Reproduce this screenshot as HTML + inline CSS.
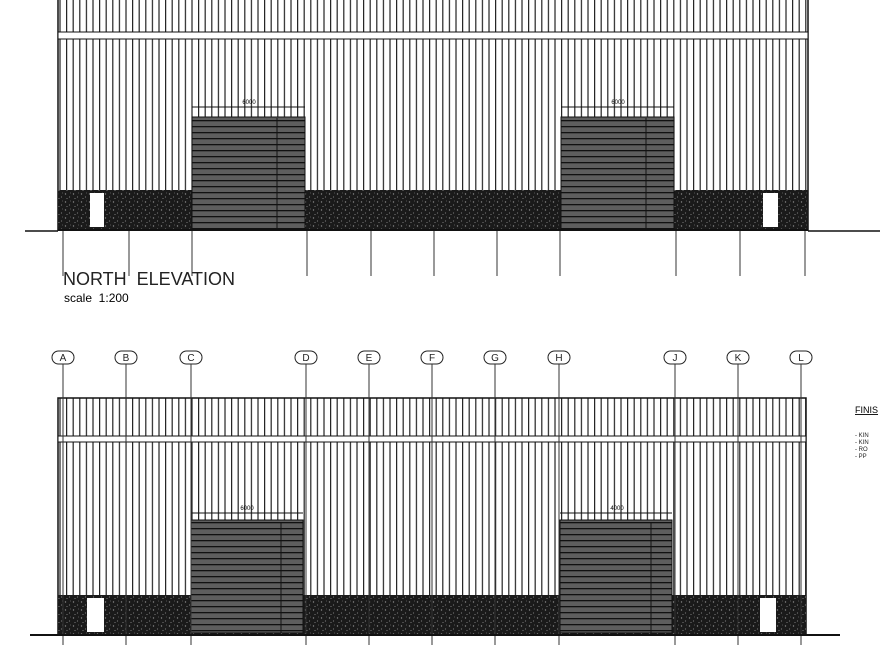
<!DOCTYPE html>
<html><head><meta charset="utf-8"><style>
html,body{margin:0;padding:0;background:#fff;width:880px;height:645px;overflow:hidden}
svg{display:block}
text{font-family:"Liberation Sans",sans-serif}
</style></head><body>
<svg width="880" height="645" viewBox="0 0 880 645" xmlns="http://www.w3.org/2000/svg">
<defs>
<pattern id="clad" x="0" y="0" width="6.6" height="10" patternUnits="userSpaceOnUse">
<rect x="0" y="0" width="1.2" height="10" fill="#222"/>
</pattern>
<pattern id="door" x="0" y="0" width="10" height="6" patternUnits="userSpaceOnUse">
<rect width="10" height="6" fill="#5e5e5e"/>
<rect y="0" width="10" height="1.3" fill="#111"/>
</pattern>
<pattern id="gravel" x="0" y="0" width="8" height="8" patternUnits="userSpaceOnUse">
<rect width="8" height="8" fill="#1a1a1a"/>
<circle cx="1.5" cy="2" r="0.7" fill="#888"/>
<circle cx="5.5" cy="5" r="0.6" fill="#777"/>
<circle cx="3" cy="6.5" r="0.5" fill="#999"/>
<circle cx="6.5" cy="1" r="0.5" fill="#666"/>
</pattern>
</defs>

<!-- TOP: NORTH ELEVATION -->
<rect x="58" y="0" width="750" height="190" fill="url(#clad)"/>
<line x1="58" y1="0" x2="58" y2="231" stroke="#111" stroke-width="1.5"/>
<line x1="808" y1="0" x2="808" y2="231" stroke="#111" stroke-width="1.5"/>
<rect x="58" y="32" width="750" height="7" fill="#fff" stroke="#111" stroke-width="1"/>
<rect x="58" y="190" width="750" height="40" fill="url(#gravel)"/>
<rect x="90" y="193" width="14" height="34" fill="#fff"/>
<rect x="763" y="193" width="15" height="34" fill="#fff"/>
<rect x="192" y="117" width="113" height="112" fill="url(#door)" stroke="#111"/>
<rect x="561" y="117" width="113" height="112" fill="url(#door)" stroke="#111"/>
<line x1="277" y1="118" x2="277" y2="229" stroke="#111"/>
<line x1="646" y1="118" x2="646" y2="229" stroke="#111"/>
<line x1="192" y1="107" x2="305" y2="107" stroke="#111"/>
<line x1="561" y1="107" x2="674" y2="107" stroke="#111"/>
<text x="249" y="104" font-size="6" text-anchor="middle">6000</text>
<text x="618" y="104" font-size="6" text-anchor="middle">6000</text>
<line x1="25" y1="231" x2="58" y2="231" stroke="#111" stroke-width="1.5"/>
<line x1="58" y1="230" x2="808" y2="230" stroke="#111" stroke-width="2"/>
<line x1="808" y1="231" x2="880" y2="231" stroke="#111" stroke-width="1.5"/>
<g stroke="#333" stroke-width="1">
<line x1="63" y1="231" x2="63" y2="276"/><line x1="129" y1="231" x2="129" y2="276"/>
<line x1="192" y1="231" x2="192" y2="276"/><line x1="307" y1="231" x2="307" y2="276"/>
<line x1="371" y1="231" x2="371" y2="276"/><line x1="434" y1="231" x2="434" y2="276"/>
<line x1="497" y1="231" x2="497" y2="276"/><line x1="560" y1="231" x2="560" y2="276"/>
<line x1="676" y1="231" x2="676" y2="276"/><line x1="740" y1="231" x2="740" y2="276"/>
<line x1="805" y1="231" x2="805" y2="276"/>
</g>
<text x="63" y="285" font-size="18" fill="#222" xml:space="preserve">NORTH  ELEVATION</text>
<text x="64" y="302" font-size="12" xml:space="preserve">scale  1:200</text>

<!-- BOTTOM ELEVATION -->
<g stroke="#222" fill="#fff" stroke-width="1">
<rect x="52" y="351" width="22" height="13" rx="6.5"/><rect x="115" y="351" width="22" height="13" rx="6.5"/>
<rect x="180" y="351" width="22" height="13" rx="6.5"/><rect x="295" y="351" width="22" height="13" rx="6.5"/>
<rect x="358" y="351" width="22" height="13" rx="6.5"/><rect x="421" y="351" width="22" height="13" rx="6.5"/>
<rect x="484" y="351" width="22" height="13" rx="6.5"/><rect x="548" y="351" width="22" height="13" rx="6.5"/>
<rect x="664" y="351" width="22" height="13" rx="6.5"/><rect x="727" y="351" width="22" height="13" rx="6.5"/>
<rect x="790" y="351" width="22" height="13" rx="6.5"/>
</g>
<g font-size="10" text-anchor="middle" fill="#222">
<text x="63" y="361">A</text><text x="126" y="361">B</text><text x="191" y="361">C</text>
<text x="306" y="361">D</text><text x="369" y="361">E</text><text x="432" y="361">F</text>
<text x="495" y="361">G</text><text x="559" y="361">H</text><text x="675" y="361">J</text>
<text x="738" y="361">K</text><text x="801" y="361">L</text>
</g>
<rect x="58" y="398" width="748" height="197" fill="url(#clad)"/>
<rect x="58" y="398" width="748" height="237" fill="none" stroke="#111" stroke-width="1.5"/>
<rect x="58" y="436" width="748" height="6" fill="#fff" stroke="#111" stroke-width="1"/>
<rect x="58" y="595" width="748" height="39" fill="url(#gravel)"/>
<rect x="87" y="598" width="17" height="34" fill="#fff"/>
<rect x="760" y="598" width="16" height="34" fill="#fff"/>
<rect x="191" y="520" width="112" height="113" fill="url(#door)" stroke="#111"/>
<rect x="560" y="520" width="112" height="113" fill="url(#door)" stroke="#111"/>
<line x1="651" y1="522" x2="651" y2="633" stroke="#111"/>
<line x1="281" y1="522" x2="281" y2="633" stroke="#111"/>
<line x1="191" y1="513" x2="303" y2="513" stroke="#111"/>
<line x1="560" y1="513" x2="672" y2="513" stroke="#111"/>
<text x="247" y="510" font-size="6" text-anchor="middle">6000</text>
<text x="617" y="510" font-size="6" text-anchor="middle">4000</text>
<g stroke="#333" stroke-width="1">
<line x1="63" y1="364" x2="63" y2="645"/><line x1="126" y1="364" x2="126" y2="645"/>
<line x1="191" y1="364" x2="191" y2="645"/><line x1="306" y1="364" x2="306" y2="645"/>
<line x1="369" y1="364" x2="369" y2="645"/><line x1="432" y1="364" x2="432" y2="645"/>
<line x1="495" y1="364" x2="495" y2="645"/><line x1="559" y1="364" x2="559" y2="645"/>
<line x1="675" y1="364" x2="675" y2="645"/><line x1="738" y1="364" x2="738" y2="645"/>
<line x1="801" y1="364" x2="801" y2="645"/>
</g>
<line x1="30" y1="635" x2="840" y2="635" stroke="#111" stroke-width="2"/>
<text x="855" y="413" font-size="9" text-decoration="underline">FINIS</text>
<g font-size="6" fill="#222"><text x="855" y="437">- KIN</text><text x="855" y="444">- KIN</text><text x="855" y="451">- RO</text><text x="855" y="458">- PP</text></g>
</svg>
</body></html>
